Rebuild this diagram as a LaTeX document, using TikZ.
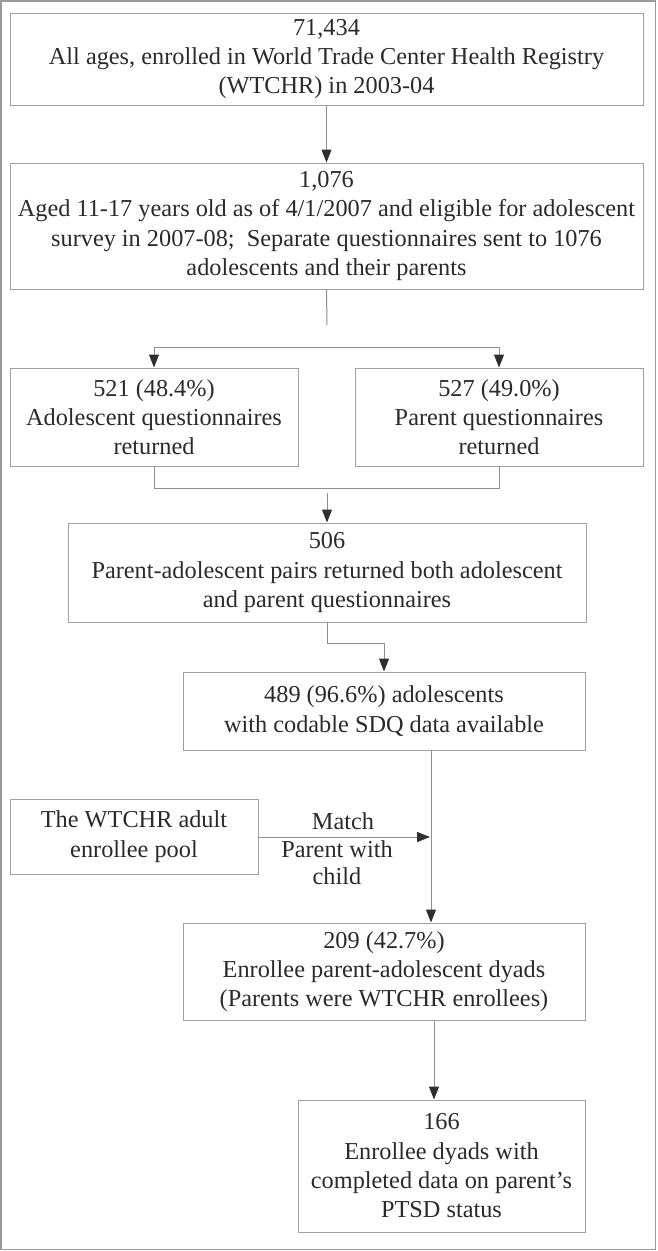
\documentclass[tikz,border=0pt]{standalone}
\usepackage{fontspec}
\setmainfont{Liberation Serif}
\usetikzlibrary{arrows.meta}
\definecolor{framegray}{HTML}{9A9A9A}
\definecolor{boxgray}{HTML}{A0A0A0}
\definecolor{linegray}{HTML}{8E8E8E}
\definecolor{tipgray}{HTML}{2E2E2E}
\definecolor{txt}{HTML}{2A2A2A}
\tikzset{
  flowbox/.style={draw=boxgray, line width=1pt, inner sep=0pt, align=center,
    text=txt, font=\fontsize{24.3}{29.3}\selectfont},
  conn/.style={draw=linegray, line width=1pt},
  arr/.style={conn, -{Triangle[length=13pt,width=10pt,color=tipgray]}},
  lbl/.style={inner sep=0pt, align=center, text=txt, font=\fontsize{24.3}{27.5}\selectfont}
}
\begin{document}
\begin{tikzpicture}[x=1pt, y=-1pt]
\useasboundingbox (0,0) rectangle (657,1251);
\draw[framegray, line width=1.6pt] (1.2,1.2) rectangle (655.6,1249.6);

\node[flowbox, minimum width=633pt, minimum height=92pt] (b1) at (326.5,59)
  {71,434\\All ages, enrolled in World Trade Center Health Registry\\(WTCHR) in 2003-04};
\node[flowbox, minimum width=633pt, minimum height=126pt] (b2) at (326.5,226)
  {1,076\\Aged 11-17 years old as of 4/1/2007 and eligible for adolescent\\survey in 2007-08;\ \ Separate questionnaires sent to 1076\\adolescents and their parents};
\node[flowbox, minimum width=288pt, minimum height=98pt] (b3) at (154,417)
  {521 (48.4\%)\\Adolescent questionnaires\\returned};
\node[flowbox, minimum width=288pt, minimum height=98pt] (b4) at (499,417)
  {527 (49.0\%)\\Parent questionnaires\\returned};
\node[flowbox, minimum width=518pt, minimum height=99pt] (b5) at (327,572.5)
  {506\\Parent-adolescent pairs returned both adolescent\\and parent questionnaires};
\node[flowbox, minimum width=402pt, minimum height=78pt] (b6) at (384,711)
  {489 (96.6\%) adolescents\\with codable SDQ data available};
\node[flowbox, minimum width=248pt, minimum height=75pt] (pool) at (134,836.5)
  {The WTCHR adult\\enrollee pool};
\node[flowbox, minimum width=402pt, minimum height=97pt] (b7) at (384,971.5)
  {209 (42.7\%)\\Enrollee parent-adolescent dyads\\(Parents were WTCHR enrollees)};
\node[flowbox, minimum width=287pt, minimum height=132pt] (b8) at (441.5,1166)
  {166\\Enrollee dyads with\\completed data on parent’s\\PTSD status};

\node[lbl] (match) at (337,849) {\hspace*{12pt}Match\\Parent with\\child};

% helper coordinates
\coordinate (c2end) at (327,325);
\coordinate (bl) at (154,347);
\coordinate (br) at (499,347);
\coordinate (jl) at (154,488);
\coordinate (jr) at (499,488);
\coordinate (j5) at (327,493);
\coordinate (e1) at (327,643);
\coordinate (e2) at (384,643);
\coordinate (v6) at (431,0);
\coordinate (mt) at (430,837);
\coordinate (v7) at (434,0);

\draw[arr] (b1.south) -- (b2.north);
\draw[conn] (b2.south) -- (c2end);
\draw[conn] (bl) -- (br);
\draw[arr] (bl) -- (b3.north);
\draw[arr] (br) -- (b4.north);
\draw[conn] (b3.south) -- (jl) -- (jr) -- (b4.south);
\draw[arr] (j5) -- (b5.north);
\draw[arr] (b5.south) -- (e1) -- (e2) -- (b6.north);
\draw[arr] (b6.south -| v6) -- (b7.north -| v6);
\draw[arr] (pool.east |- mt) -- (mt);
\draw[arr] (b7.south -| v7) -- (b8.north -| v7);
\end{tikzpicture}
\end{document}
